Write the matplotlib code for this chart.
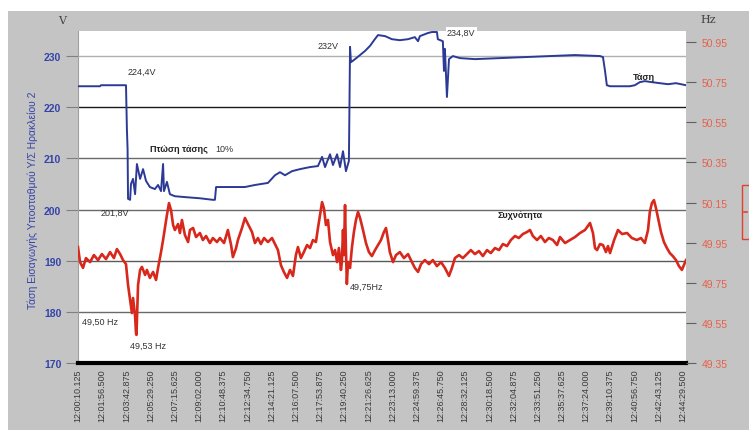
import matplotlib
matplotlib.use('Agg')
import matplotlib.pyplot as plt
from matplotlib.patches import Rectangle
from matplotlib.lines import Line2D

plt.rcParams['font.family'] = ['Liberation Sans', 'DejaVu Sans']

# time in seconds from 12:00:10.125
volt_t = [0, 97, 101, 211, 215, 218, 220, 229, 233, 242, 251, 259, 273, 286, 299,
          316, 338, 352, 365, 374, 378, 391, 404, 426, 479, 536, 593, 602, 607, 734,
          778, 835, 866, 888, 910, 941, 976, 1020, 1055, 1073, 1086, 1108, 1121, 1139,
          1152, 1165, 1178, 1191, 1196, 1200, 1218, 1240, 1262, 1284, 1305, 1319, 1350,
          1380, 1415, 1451, 1481, 1495, 1503, 1538, 1556, 1578, 1582, 1604, 1609, 1613,
          1622, 1631, 1648, 1679, 1745, 1855, 1965, 2075, 2185, 2295, 2308, 2317, 2325,
          2339, 2426, 2448, 2470, 2492, 2523, 2558, 2594, 2629, 2673]
volt_v = [224.1, 224.1, 224.3, 224.3, 215.7, 211.8, 202.1, 201.9, 205.0, 206.0, 203.0,
          208.9, 206.0, 207.9, 205.6, 204.4, 204.0, 204.8, 203.6, 208.9, 203.6, 205.4,
          203.0, 202.6, 202.4, 202.2, 201.9, 201.9, 204.4, 204.4, 204.8, 205.2, 206.7,
          207.3, 206.7, 207.5, 207.9, 208.3, 208.5, 210.3, 208.3, 210.8, 208.7, 210.8,
          208.3, 211.4, 207.5, 209.5, 231.8, 228.8, 229.4, 230.2, 231.0, 232.0, 233.3,
          234.1, 233.9, 233.3, 233.1, 233.3, 233.7, 232.9, 233.9, 234.5, 234.7, 234.7,
          233.3, 232.9, 227.1, 231.4, 222.0, 229.4, 230.0, 229.6, 229.4, 229.6, 229.8,
          230.0, 230.2, 230.0, 229.8, 227.1, 224.3, 224.1, 224.1, 224.3, 224.9, 225.1,
          224.9, 224.7, 224.5, 224.7, 224.3]

freq_t = [0, 9, 22, 35, 53, 70, 88, 105, 123, 141, 158, 171, 185, 198, 211, 220, 229,
          237, 242, 251, 255, 257, 264, 273, 281, 295, 303, 316, 330, 343, 352, 365, 374,
          382, 391, 400, 409, 418, 426, 440, 448, 457, 470, 484, 492, 506, 519, 536, 549,
          563, 580, 593, 611, 624, 642, 659, 673, 681, 695, 703, 721, 734, 747, 765, 778,
          791, 804, 818, 835, 853, 866, 879, 892, 905, 919, 932, 945, 958, 967, 980, 993,
          1007, 1020, 1033, 1046, 1055, 1064, 1073, 1081, 1090, 1099, 1108, 1121, 1130,
          1139, 1147, 1156, 1160, 1165, 1169, 1174, 1178, 1182, 1187, 1196, 1204, 1213,
          1222, 1231, 1240, 1253, 1266, 1279, 1292, 1306, 1319, 1332, 1345, 1354, 1363,
          1371, 1385, 1398, 1415, 1433, 1451, 1468, 1481, 1495, 1508, 1525, 1543, 1560,
          1578, 1596, 1613, 1631, 1644, 1657, 1675, 1692, 1710, 1727, 1745, 1763, 1780,
          1798, 1815, 1833, 1851, 1868, 1886, 1903, 1921, 1938, 1956, 1974, 1987, 2000,
          2018, 2035, 2053, 2070, 2088, 2106, 2119, 2141, 2163, 2185, 2207, 2229, 2251,
          2264, 2273, 2282, 2295, 2308, 2321, 2330, 2339, 2357, 2374, 2392, 2414, 2435,
          2457, 2475, 2492, 2506, 2514, 2523, 2532, 2541, 2549, 2563, 2576, 2589, 2602,
          2615, 2629, 2642, 2655, 2664, 2673]
freq_hz = [49.928, 49.853, 49.824, 49.873, 49.853, 49.888, 49.863, 49.893, 49.868,
           49.903, 49.873, 49.918, 49.893, 49.863, 49.843, 49.739, 49.664, 49.599,
           49.674, 49.584, 49.500, 49.490, 49.739, 49.814, 49.829, 49.789, 49.814,
           49.774, 49.804, 49.764, 49.824, 49.903, 49.963, 50.023, 50.088, 50.147,
           50.112, 50.038, 50.013, 50.043, 49.998, 50.063, 49.988, 49.953, 50.013,
           50.023, 49.978, 49.998, 49.963, 49.983, 49.948, 49.973, 49.953, 49.973,
           49.948, 50.013, 49.938, 49.878, 49.923, 49.963, 50.023, 50.073, 50.043,
           50.003, 49.948, 49.973, 49.943, 49.973, 49.953, 49.973, 49.943, 49.913,
           49.838, 49.804, 49.774, 49.814, 49.784, 49.888, 49.928, 49.873, 49.903,
           49.938, 49.923, 49.963, 49.953, 50.023, 50.088, 50.152, 50.122, 50.038,
           50.063, 49.953, 49.888, 49.913, 49.853, 49.923, 49.814, 49.853, 50.013,
           49.888, 50.137, 49.913, 49.744, 49.853, 49.824, 49.923, 50.003, 50.063,
           50.103, 50.073, 50.013, 49.948, 49.903, 49.883, 49.913, 49.938, 49.963,
           50.003, 50.023, 49.963, 49.903, 49.853, 49.888, 49.903, 49.873, 49.893,
           49.853, 49.824, 49.804, 49.843, 49.863, 49.843, 49.863, 49.833, 49.853,
           49.824, 49.784, 49.824, 49.873, 49.888, 49.873, 49.893, 49.913, 49.893,
           49.908, 49.883, 49.913, 49.898, 49.923, 49.913, 49.943, 49.933, 49.963,
           49.983, 49.973, 49.993, 50.003, 50.013, 49.983, 49.963, 49.983, 49.953,
           49.973, 49.963, 49.938, 49.978, 49.948, 49.963, 49.978, 49.998, 50.013,
           50.048, 49.998, 49.923, 49.913, 49.943, 49.938, 49.903, 49.933, 49.898,
           49.963, 50.013, 49.993, 49.998, 49.973, 49.963, 49.973, 49.948, 50.013,
           50.103, 50.147, 50.162, 50.122, 50.078, 50.003, 49.953, 49.923, 49.898,
           49.883, 49.863, 49.833, 49.814, 49.838, 49.863]

tick_labels = ['12:00:10.125', '12:01:56.500', '12:03:42.875', '12:05:29.250',
               '12:07:15.625', '12:09:02.000', '12:10:48.375', '12:12:34.750',
               '12:14:21.125', '12:16:07.500', '12:17:53.875', '12:19:40.250',
               '12:21:26.625', '12:23:13.000', '12:24:59.375', '12:26:45.750',
               '12:28:32.125', '12:30:18.500', '12:32:04.875', '12:33:51.250',
               '12:35:37.625', '12:37:24.000', '12:39:10.375', '12:40:56.750',
               '12:42:43.125', '12:44:29.500']
tick_secs = [0, 106.375, 212.75, 319.125, 425.5, 531.875, 638.25, 744.625, 851,
             957.375, 1063.75, 1170.125, 1276.5, 1382.875, 1489.25, 1595.625, 1702,
             1808.375, 1914.75, 2021.125, 2127.5, 2233.875, 2340.25, 2446.625, 2553,
             2659.375]

volt_ticks = [170, 180, 190, 200, 210, 220, 230]
hz_ticks = [49.35, 49.55, 49.75, 49.95, 50.15, 50.35, 50.55, 50.75, 50.95]

fig = plt.figure(figsize=(7.49, 4.31), dpi=100)
fig.patches.append(Rectangle((8 / 749, 0), 1, 419 / 431, transform=fig.transFigure,
                             facecolor='#c4c4c4', edgecolor='none', zorder=-10))

ax = fig.add_axes([78 / 749, 67 / 431, 608 / 749, 332 / 431])
ax.set_facecolor('white')
ax2 = ax.twinx()

grid_cols = {180: '#6a6a6a', 190: '#5a5a5a', 200: '#6a6a6a', 210: '#6a6a6a',
             220: '#1a1a1a', 230: '#b0b0b0'}
for v, c in grid_cols.items():
    ax.axhline(v, color=c, lw=1.0, zorder=1)

ax.plot(volt_t, volt_v, color='#2c3a96', lw=1.4, zorder=3)
ax2.plot(freq_t, freq_hz, color='#d8281c', lw=1.9, zorder=3)

ax.set_xlim(0, 2673)
ax.set_ylim(170, 234.9)
ax2.set_ylim(49.35, 51.005)

for s in ['top', 'right']:
    ax.spines[s].set_visible(False)
    ax2.spines[s].set_visible(False)
ax2.spines['left'].set_visible(False)
ax2.spines['bottom'].set_visible(False)
ax.spines['bottom'].set_linewidth(3)
ax.spines['bottom'].set_color('black')
ax.spines['left'].set_color('#a0a0a0')
ax.spines['left'].set_linewidth(0.8)

ax.set_yticks(volt_ticks)
ax.tick_params(axis='y', length=9, width=0.8, color='#808080',
               labelsize=7.5, labelcolor='#3444a8', pad=3)
for lb in ax.get_yticklabels():
    lb.set_fontweight('bold')

ax.set_xticks(tick_secs)
ax.set_xticklabels(tick_labels, rotation=90, fontsize=6.5, color='#3a3a3a')
ax.tick_params(axis='x', length=0, pad=4)

ax2.set_yticks(hz_ticks)
ax2.set_yticklabels(['%.2f' % h for h in hz_ticks])
ax2.tick_params(axis='y', length=7, width=0.8, color='#606060',
                labelsize=7.5, labelcolor='#e8604a', pad=4)

# annotations
fs = 6.5
ax.text(220, 227.1, '224,4V', fontsize=fs, color='#333333', va='center')
ax.text(316, 212.0, 'Πτώση τάσης', fontsize=fs, fontweight='bold', color='#222222', va='center')
ax.text(602, 212.0, '10%', fontsize=fs, color='#333333', va='center')
ax.text(97, 199.5, '201,8V', fontsize=fs, color='#333333', va='center')
ax.text(18, 178.2, '49,50 Hz', fontsize=fs, color='#333333', va='center')
ax.text(229, 173.5, '49,53 Hz', fontsize=fs, color='#333333', va='center')
ax.text(1055, 232.0, '232V', fontsize=fs, color='#333333', va='center')
ax.text(1622, 234.6, '234,8V', fontsize=fs, color='#333333', va='center', zorder=5,
        bbox=dict(facecolor='white', edgecolor='none', pad=0.8))
ax.text(2440, 226.1, 'Τάση', fontsize=fs, fontweight='bold', color='#222222', va='center')
ax.text(1846, 199.1, 'Συχνότητα', fontsize=fs, fontweight='bold', color='#222222', va='center')
ax.text(1196, 185.0, '49,75Hz', fontsize=fs, color='#333333', va='center')

fig.text(33 / 749, 1 - 200 / 431, 'Τάση Εισαγωγής Υποσταθμού Υ/Σ Ηρακλείου 2',
         rotation=90, fontsize=7.5, color='#3444a8', ha='center', va='center')
fig.text(62 / 749, 1 - 21 / 431, 'V', fontsize=8, color='#444444',
         family='DejaVu Serif', ha='center', va='center')
fig.text(708 / 749, 1 - 20 / 431, 'Hz', fontsize=8, color='#444444',
         family='DejaVu Serif', ha='center', va='center')

# cut-off red label box at the right edge
fig.patches.append(Rectangle((742 / 749, 1 - 240 / 431), 0.03, 54 / 431,
                             transform=fig.transFigure, fill=False,
                             edgecolor='#e04030', lw=1.0))
fig.lines.append(Line2D([744 / 749, 747 / 749], [1 - 213 / 431, 1 - 213 / 431],
                        transform=fig.transFigure, color='#e04030', lw=1.2))

fig.savefig('out.png', dpi=100)
